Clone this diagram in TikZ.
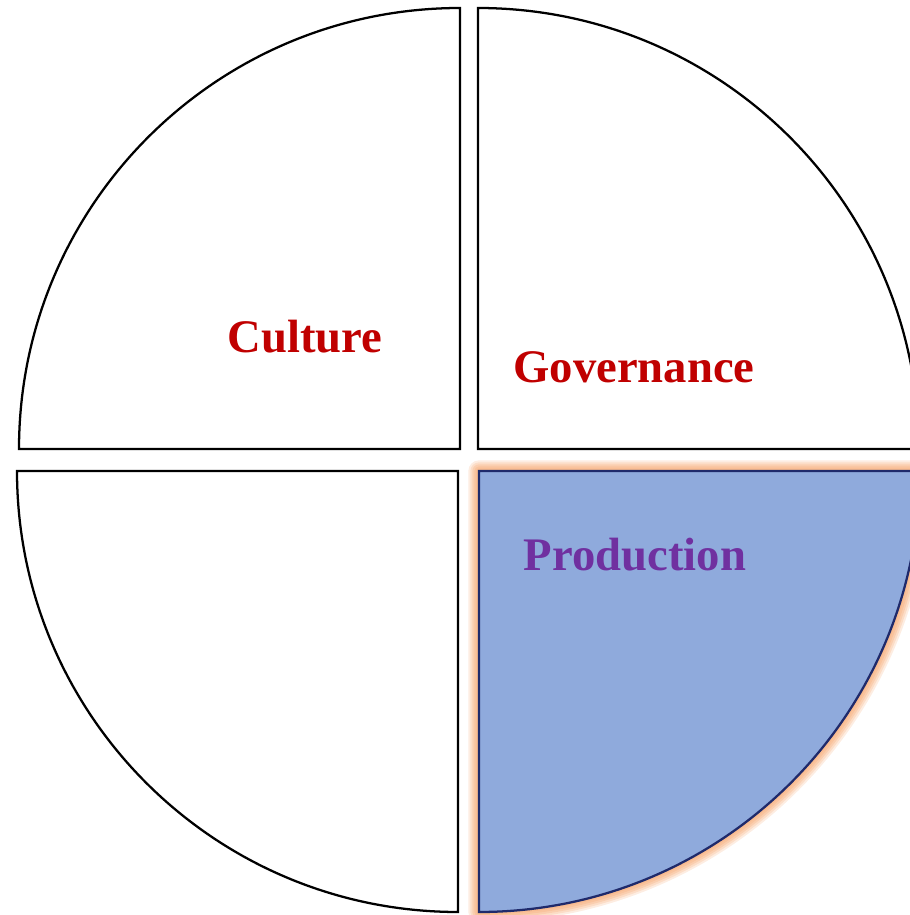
\documentclass[tikz,border=0pt]{standalone}
\usepackage{fontspec}
\setmainfont{Liberation Serif}
\definecolor{labelred}{HTML}{C00000}
\definecolor{labelpurple}{HTML}{7030A0}
\definecolor{prodfill}{HTML}{8FAADC}
\definecolor{prodline}{HTML}{1F2A6B}
\definecolor{glow}{HTML}{F8B88B}
\tikzset{
  quarter/.style={draw=black, line width=1.7pt, fill=white},
  label/.style={font=\fontsize{35}{40}\selectfont\bfseries, inner sep=0pt}
}
\begin{document}
\begin{tikzpicture}[x=0.75pt, y=0.75pt]
      \useasboundingbox (0,0) rectangle (910,915);
      % top left and top right
      \draw[quarter] (460,466) -- (19,466) arc[start angle=180, end angle=90, radius=441] -- cycle;
      \draw[quarter] (478,466) -- (478,907) arc[start angle=90, end angle=0, radius=441] -- cycle;
      % bottom left
      \draw[quarter] (458,444) -- (458,3) arc[start angle=270, end angle=180, radius=441] -- cycle;
      % bottom right, with glow
      \begin{scope}
        \foreach \w/\o in {16/0.25, 13/0.3, 10/0.4, 7/0.5, 4/0.7}
          \draw[glow, line width=\w pt, opacity=\o, line join=round]
            (479,444) -- (920,444) arc[start angle=0, end angle=-90, radius=441] -- cycle;
      \end{scope}
      \draw[fill=prodfill, draw=prodline, line width=1.7pt]
        (479,444) -- (920,444) arc[start angle=0, end angle=-90, radius=441] -- cycle;
      \draw
        (305,578) node[label, text=labelred] (culture){Culture}
        (634,548) node[label, text=labelred] (governance){Governance}
        (635,360) node[label, text=labelpurple] (production){Production};
    \end{tikzpicture}
\end{document}
